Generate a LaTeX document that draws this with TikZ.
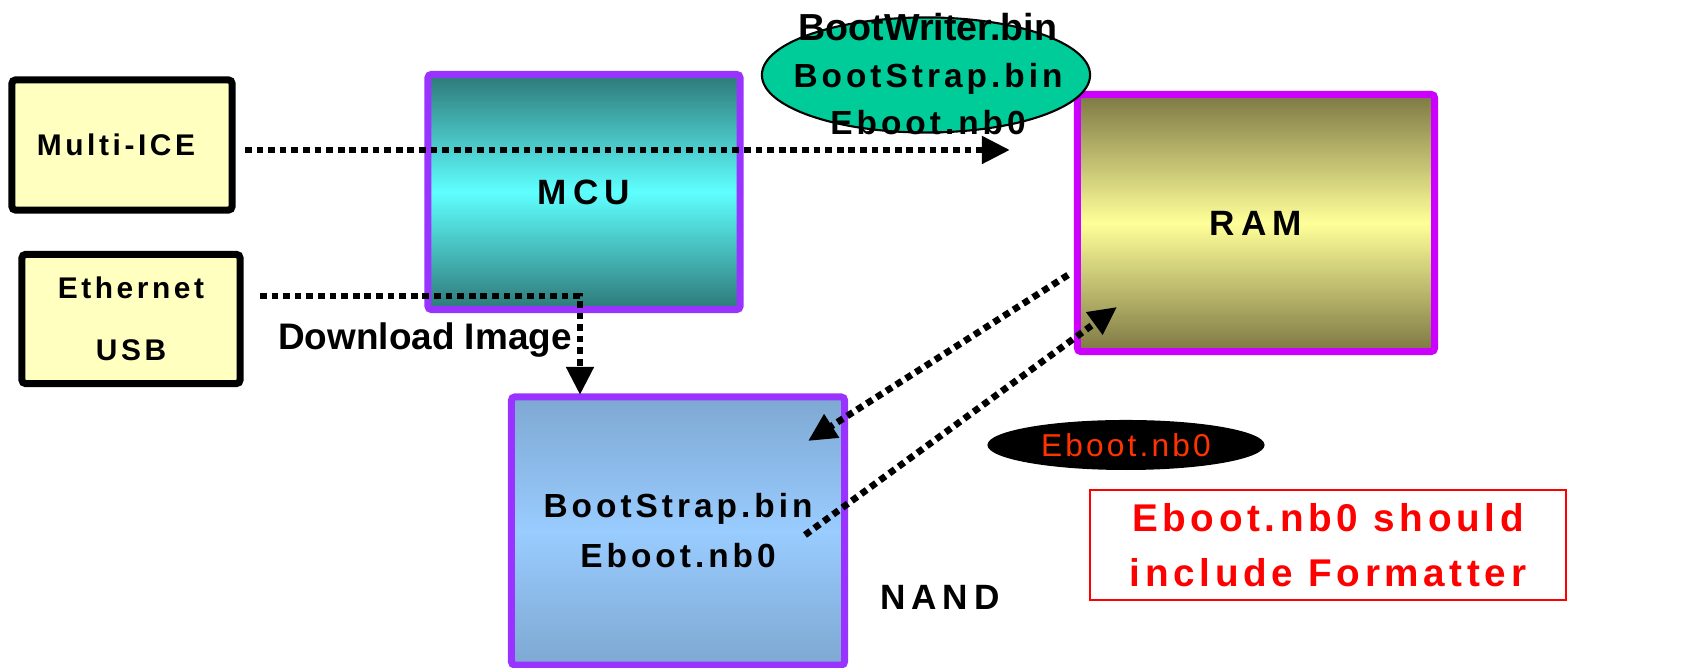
\documentclass[tikz,border=0pt]{standalone}
\usepackage{fontspec}
\setmainfont{Liberation Sans}
\newfontfamily\spc[LetterSpace=12]{Liberation Sans}
\newfontfamily\spn[LetterSpace=10]{Liberation Sans}
\newfontfamily\spw[LetterSpace=17]{Liberation Sans}
\usetikzlibrary{shapes.geometric,arrows.meta}
\definecolor{purp}{HTML}{9933FF}
\definecolor{mag}{HTML}{CC00FF}
\definecolor{ylw}{HTML}{FFFFC0}
\definecolor{tealdk}{HTML}{2E7878}
\definecolor{cyanlt}{HTML}{5FFFFF}
\definecolor{olive}{HTML}{7C7844}
\definecolor{ylwlt}{HTML}{FFFF99}
\definecolor{bluedk}{HTML}{7EA8D2}
\definecolor{bluelt}{HTML}{99CCFF}
\definecolor{grn}{HTML}{00CC99}
\definecolor{org}{HTML}{FF3300}
\tikzset{
  srcbox/.style={draw=black, line width=2pt, fill=ylw, rounded corners=1pt, align=center},
  chip/.style={draw=purp, line width=2pt, rounded corners=1pt, align=center},
  dotline/.style={line width=1.9pt, dash pattern=on 1.9pt off 1.4pt, -{Triangle[length=8pt,width=7.5pt]}},
  lbl/.style={inner sep=0pt, align=center}
}
\begin{document}
\begin{tikzpicture}[x=0.01cm,y=-0.01cm]
\useasboundingbox (0,0) rectangle (1684,668);
% source boxes
\node[srcbox, minimum width=2.2cm, minimum height=1.3cm] (mice) at (122,145)
  {\fontsize{8.5}{12}\selectfont\bfseries\spc Multi-ICE\hspace*{0.12cm}};
\node[srcbox, minimum width=2.18cm, minimum height=1.29cm,
  font=\fontsize{8.5}{17.6}\selectfont\bfseries\spc] (eth) at (131,319)
  {Ethernet\\USB};
% MCU
\node[chip, minimum width=3.12cm, minimum height=2.35cm,
  top color=tealdk, bottom color=tealdk, middle color=cyanlt] (mcu) at (584,192)
  {\fontsize{10}{12}\selectfont\bfseries\spw MCU};
% RAM
\node[chip, draw=mag, minimum width=3.57cm, minimum height=2.57cm,
  top color=olive, bottom color=olive, middle color=ylwlt] (ram) at (1256,223)
  {\fontsize{10}{12}\selectfont\bfseries\spw RAM};
% NAND
\node[chip, minimum width=3.33cm, minimum height=2.68cm,
  top color=bluedk, bottom color=bluedk, middle color=bluelt,
  font=\fontsize{9.5}{14.2}\selectfont\bfseries\spc] (nand) at (678,531)
  {BootStrap.bin\\Eboot.nb0};
\node[lbl, font=\fontsize{10}{12}\selectfont\bfseries\spw] (nandlbl) at (940,597) {NAND};
% green ellipse
\node[ellipse, draw=black, line width=0.6pt, fill=grn, minimum width=3.28cm, minimum height=1.15cm] (ell) at (926,75) {};
\node[lbl] (elltxt) at (928,74)
  {{\fontsize{10.7}{13}\selectfont\bfseries BootWriter.bin}\\[1.4pt]
   {\fontsize{9.5}{13}\selectfont\bfseries\spc BootStrap.bin}\\[1.4pt]
   {\fontsize{9.5}{13}\selectfont\bfseries\spc Eboot.nb0}};
% black ellipse
\node[ellipse, fill=black, minimum width=2.77cm, minimum height=0.5cm, inner sep=0pt,
  text=org, font=\fontsize{9}{12}\selectfont\spn] (blk) at (1126,445) {Eboot.nb0};
% red note
\node[draw=red, line width=0.5pt, minimum width=4.76cm, minimum height=1.1cm, text=red,
  align=center, font=\fontsize{11}{15.6}\selectfont\bfseries\spc] (note) at (1328,545)
  {Eboot.nb0 should\\include Formatter};
% Download Image label
\node[lbl, font=\fontsize{10.5}{12}\selectfont\bfseries] (dl) at (425,340) {Download Image};
% connector coordinates
\coordinate (a1s) at (245,150);
\coordinate (a1e) at (1010,150);
\coordinate (a2s) at (260,296);
\coordinate (a2k) at (580,296);
\coordinate (a2e) at (580,395);
\coordinate (a3s) at (1068,275);
\coordinate (a3e) at (808,441);
\coordinate (a4s) at (805,535);
\coordinate (a4e) at (1117,307);
% connectors
\draw[dotline] (a1s) -- (a1e);
\draw[dotline] (a2s) -- (a2k) -- (a2e);
\draw[dotline] (a3s) -- (a3e);
\draw[dotline] (a4s) -- (a4e);
\end{tikzpicture}
\end{document}
